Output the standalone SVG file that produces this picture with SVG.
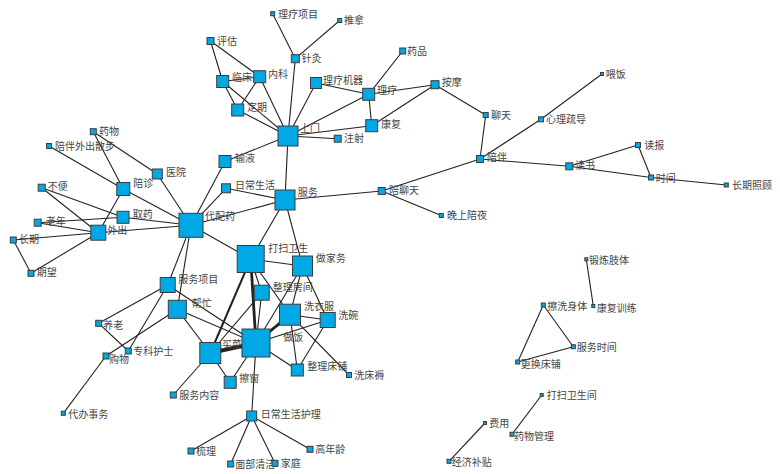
<svg xmlns="http://www.w3.org/2000/svg" width="780" height="474" viewBox="0 0 780 474">
<style>
.n rect{fill:#00a8e6;stroke:#3c3c3c;stroke-width:1}
.n text{font-family:"Noto Sans CJK SC","Noto Sans CJK JP",sans-serif;font-size:10px;fill:#444}
.e line{stroke:#222;stroke-width:1.1;fill:none}
.e .t2{stroke-width:2}
.e .t3{stroke-width:2.8}
.e .t4{stroke-width:4}
</style>
<rect width="780" height="474" fill="#fff"/>
<g id="connectors" class="e">
<line x1="272.7" y1="13.7" x2="295.3" y2="58.7"/>
<line x1="339.7" y1="20.5" x2="295.3" y2="58.7"/>
<line x1="295.3" y1="58.7" x2="288" y2="136"/>
<line x1="210.5" y1="41" x2="222.7" y2="81.5"/>
<line x1="210.5" y1="41" x2="259.7" y2="76.7"/>
<line x1="222.7" y1="81.5" x2="259.7" y2="76.7"/>
<line x1="222.7" y1="81.5" x2="237.7" y2="110"/>
<line x1="259.7" y1="76.7" x2="237.7" y2="110"/>
<line x1="222.7" y1="81.5" x2="288" y2="136"/>
<line x1="237.7" y1="110" x2="288" y2="136"/>
<line x1="259.7" y1="76.7" x2="288" y2="136"/>
<line x1="316" y1="83" x2="288" y2="136"/>
<line x1="316" y1="83" x2="368.7" y2="94.3"/>
<line x1="402.7" y1="51" x2="368.7" y2="94.3"/>
<line x1="368.7" y1="94.3" x2="435" y2="84.7"/>
<line x1="368.7" y1="94.3" x2="371.7" y2="125.7"/>
<line x1="435" y1="84.7" x2="371.7" y2="125.7"/>
<line x1="288" y1="136" x2="368.7" y2="94.3"/>
<line x1="288" y1="136" x2="371.7" y2="125.7"/>
<line x1="288" y1="136" x2="337.7" y2="138.7"/>
<line x1="288" y1="136" x2="225" y2="161.5"/>
<line x1="288" y1="136" x2="285" y2="200"/>
<line x1="435" y1="84.7" x2="485.7" y2="115"/>
<line x1="485.7" y1="115" x2="480" y2="159"/>
<line x1="480" y1="159" x2="541" y2="119.3"/>
<line x1="541" y1="119.3" x2="602" y2="74"/>
<line x1="480" y1="159" x2="569.3" y2="166.3"/>
<line x1="480" y1="159" x2="381.7" y2="191"/>
<line x1="569.3" y1="166.3" x2="638" y2="145"/>
<line x1="638" y1="145" x2="651" y2="177.5"/>
<line x1="569.3" y1="166.3" x2="651" y2="177.5"/>
<line x1="651" y1="177.5" x2="726.3" y2="185"/>
<line x1="381.7" y1="191" x2="285" y2="200"/>
<line x1="381.7" y1="191" x2="441.3" y2="215.5"/>
<line x1="93.3" y1="131.7" x2="123.3" y2="189"/>
<line x1="93.3" y1="131.7" x2="157.3" y2="174"/>
<line x1="49" y1="146" x2="123.3" y2="189"/>
<line x1="157.3" y1="174" x2="191" y2="225.3"/>
<line x1="123.3" y1="189" x2="191" y2="225.3"/>
<line x1="123.3" y1="189" x2="98.3" y2="232.7"/>
<line x1="41.7" y1="187.7" x2="123" y2="217.3"/>
<line x1="41.7" y1="187.7" x2="98.3" y2="232.7"/>
<line x1="37.7" y1="222.7" x2="123" y2="217.3"/>
<line x1="37.7" y1="222.7" x2="98.3" y2="232.7"/>
<line x1="123" y1="217.3" x2="191" y2="225.3"/>
<line x1="13.3" y1="240" x2="98.3" y2="232.7"/>
<line x1="13.3" y1="240" x2="31" y2="273.3"/>
<line x1="31" y1="273.3" x2="98.3" y2="232.7"/>
<line x1="98.3" y1="232.7" x2="191" y2="225.3"/>
<line x1="225" y1="161.5" x2="191" y2="225.3"/>
<line x1="226" y1="188.3" x2="191" y2="225.3"/>
<line x1="226" y1="188.3" x2="285" y2="200"/>
<line x1="191" y1="225.3" x2="285" y2="200"/>
<line x1="191" y1="225.3" x2="250.7" y2="259"/>
<line x1="191" y1="225.3" x2="167.7" y2="285"/>
<line x1="191" y1="225.3" x2="177.3" y2="309.3"/>
<line x1="285" y1="200" x2="250.7" y2="259"/>
<line x1="285" y1="200" x2="302.5" y2="266"/>
<line x1="250.7" y1="259" x2="302.5" y2="266"/>
<line x1="250.7" y1="259" x2="261.7" y2="292.7"/>
<line class="t3" x1="250.7" y1="259" x2="256" y2="343"/>
<line class="t2" x1="250.7" y1="259" x2="210.3" y2="353"/>
<line x1="250.7" y1="259" x2="290" y2="314.7"/>
<line x1="302.5" y1="266" x2="290" y2="314.7"/>
<line x1="302.5" y1="266" x2="327.7" y2="320"/>
<line x1="302.5" y1="266" x2="256" y2="343"/>
<line x1="261.7" y1="292.7" x2="256" y2="343"/>
<line x1="261.7" y1="292.7" x2="210.3" y2="353"/>
<line class="t3" x1="290" y1="314.7" x2="256" y2="343"/>
<line x1="290" y1="314.7" x2="327.7" y2="320"/>
<line x1="290" y1="314.7" x2="297.3" y2="370"/>
<line x1="290" y1="314.7" x2="349" y2="375"/>
<line x1="327.7" y1="320" x2="256" y2="343"/>
<line x1="327.7" y1="320" x2="297.3" y2="370"/>
<line class="t4" x1="256" y1="343" x2="210.3" y2="353"/>
<line x1="256" y1="343" x2="297.3" y2="370"/>
<line x1="256" y1="343" x2="230.2" y2="382.3"/>
<line x1="256" y1="343" x2="251.7" y2="416"/>
<line x1="256" y1="343" x2="177.3" y2="309.3"/>
<line x1="256" y1="343" x2="167.7" y2="285"/>
<line x1="210.3" y1="353" x2="230.2" y2="382.3"/>
<line x1="210.3" y1="353" x2="177.3" y2="309.3"/>
<line x1="210.3" y1="353" x2="173.3" y2="395"/>
<line x1="167.7" y1="285" x2="98.7" y2="323.3"/>
<line x1="167.7" y1="285" x2="128.3" y2="351"/>
<line x1="98.7" y1="323.3" x2="128.3" y2="351"/>
<line x1="177.3" y1="309.3" x2="106" y2="356"/>
<line x1="106" y1="356" x2="63.3" y2="413.3"/>
<line x1="251.7" y1="416" x2="191" y2="451"/>
<line x1="251.7" y1="416" x2="230.7" y2="464"/>
<line x1="251.7" y1="416" x2="275" y2="463.3"/>
<line x1="251.7" y1="416" x2="310" y2="449.3"/>
<line x1="586.3" y1="259.3" x2="593.3" y2="306"/>
<line x1="543.3" y1="305" x2="573.3" y2="346.7"/>
<line x1="543.3" y1="305" x2="517.7" y2="362"/>
<line x1="517.7" y1="362" x2="573.3" y2="346.7"/>
<line x1="541.7" y1="395" x2="512" y2="434.3"/>
<line x1="485" y1="423" x2="449" y2="461.3"/>
</g>
<g id="n1" class="n"><rect x="270.7" y="11.7" width="4" height="4"/><text x="278" y="17.5">理疗项目</text></g>
<g id="n2" class="n"><rect x="337.7" y="18.5" width="4" height="4"/><text x="344" y="24">推拿</text></g>
<g id="n3" class="n"><rect x="207" y="37.5" width="7" height="7"/><text x="217" y="44.5">评估</text></g>
<g id="n4" class="n"><rect x="291.3" y="54.7" width="8" height="8"/><text x="301.5" y="62">针灸</text></g>
<g id="n5" class="n"><rect x="399.7" y="48" width="6" height="6"/><text x="407" y="54.5">药品</text></g>
<g id="n6" class="n"><rect x="216.7" y="75.5" width="12" height="12"/><text x="232" y="81">临床</text></g>
<g id="n7" class="n"><rect x="253.7" y="70.7" width="12" height="12"/><text x="268" y="77.5">内科</text></g>
<g id="n8" class="n"><rect x="310.5" y="77.5" width="11" height="11"/><text x="323" y="83.5">理疗机器</text></g>
<g id="n9" class="n"><rect x="362.7" y="88.3" width="12" height="12"/><text x="377" y="94">理疗</text></g>
<g id="n10" class="n"><rect x="431" y="80.7" width="8" height="8"/><text x="441.7" y="86">按摩</text></g>
<g id="n11" class="n"><rect x="231.7" y="104" width="12" height="12"/><text x="247" y="111">定期</text></g>
<g id="n12" class="n"><rect x="278" y="126" width="20" height="20"/><text x="300" y="131.5">上门</text></g>
<g id="n13" class="n"><rect x="365.7" y="119.7" width="12" height="12"/><text x="381" y="127.5">康复</text></g>
<g id="n14" class="n"><rect x="334.2" y="135.2" width="7" height="7"/><text x="344" y="142">注射</text></g>
<g id="n15" class="n"><rect x="483.2" y="112.5" width="5" height="5"/><text x="491" y="119">聊天</text></g>
<g id="n16" class="n"><rect x="538.5" y="116.8" width="5" height="5"/><text x="546" y="123">心理疏导</text></g>
<g id="n17" class="n"><rect x="600.5" y="72.5" width="3" height="3"/><text x="605.7" y="77.5">喂饭</text></g>
<g id="n18" class="n"><rect x="476.5" y="155.5" width="7" height="7"/><text x="487" y="161">陪伴</text></g>
<g id="n19" class="n"><rect x="635.5" y="142.5" width="5" height="5"/><text x="644.3" y="148.5">读报</text></g>
<g id="n20" class="n"><rect x="565.8" y="162.8" width="7" height="7"/><text x="575" y="168.5">读书</text></g>
<g id="n21" class="n"><rect x="648.5" y="175" width="5" height="5"/><text x="655.7" y="181.5">时间</text></g>
<g id="n22" class="n"><rect x="724.3" y="183" width="4" height="4"/><text x="732" y="189">长期照顾</text></g>
<g id="n23" class="n"><rect x="378.2" y="187.5" width="7" height="7"/><text x="389" y="194">陪聊天</text></g>
<g id="n24" class="n"><rect x="439.3" y="213.5" width="4" height="4"/><text x="447" y="219">晚上陪夜</text></g>
<g id="n25" class="n"><rect x="90.3" y="128.7" width="6" height="6"/><text x="99" y="135">药物</text></g>
<g id="n26" class="n"><rect x="46.5" y="143.5" width="5" height="5"/><text x="55" y="149.5">陪伴外出散步</text></g>
<g id="n27" class="n"><rect x="152.3" y="169" width="10" height="10"/><text x="166" y="176">医院</text></g>
<g id="n28" class="n"><rect x="116.8" y="182.5" width="13" height="13"/><text x="133.3" y="187">陪诊</text></g>
<g id="n29" class="n"><rect x="219" y="155.5" width="12" height="12"/><text x="235" y="161.5">输液</text></g>
<g id="n30" class="n"><rect x="38.2" y="184.2" width="7" height="7"/><text x="47.7" y="189.5">不便</text></g>
<g id="n31" class="n"><rect x="221.5" y="183.8" width="9" height="9"/><text x="235" y="188.5">日常生活</text></g>
<g id="n32" class="n"><rect x="275" y="190" width="20" height="20"/><text x="297.7" y="196">服务</text></g>
<g id="n33" class="n"><rect x="117" y="211.3" width="12" height="12"/><text x="132.7" y="217.5">取药</text></g>
<g id="n34" class="n"><rect x="34.2" y="219.2" width="7" height="7"/><text x="45.7" y="225">老年</text></g>
<g id="n35" class="n"><rect x="179" y="213.3" width="24" height="24"/><text x="205" y="219.5">代配药</text></g>
<g id="n36" class="n"><rect x="90.8" y="225.2" width="15" height="15"/><text x="107.3" y="233.5">外出</text></g>
<g id="n37" class="n"><rect x="10.3" y="237" width="6" height="6"/><text x="19" y="242.5">长期</text></g>
<g id="n38" class="n"><rect x="28" y="270.3" width="6" height="6"/><text x="36.7" y="276">期望</text></g>
<g id="n39" class="n"><rect x="237.2" y="245.5" width="27" height="27"/><text x="268.3" y="252">打扫卫生</text></g>
<g id="n40" class="n"><rect x="292.5" y="256" width="20" height="20"/><text x="315.7" y="262">做家务</text></g>
<g id="n41" class="n"><rect x="254.2" y="285.2" width="15" height="15"/><text x="272.7" y="291">整理房间</text></g>
<g id="n42" class="n"><rect x="160.2" y="277.5" width="15" height="15"/><text x="178.3" y="283">服务项目</text></g>
<g id="n43" class="n"><rect x="168.3" y="300.3" width="18" height="18"/><text x="191.7" y="307">帮忙</text></g>
<g id="n44" class="n"><rect x="279.5" y="304.2" width="21" height="21"/><text x="304" y="310">洗衣服</text></g>
<g id="n45" class="n"><rect x="320.2" y="312.5" width="15" height="15"/><text x="338.3" y="319">洗碗</text></g>
<g id="n46" class="n"><rect x="242" y="329" width="28" height="28"/><text x="283.3" y="341">做饭</text></g>
<g id="n47" class="n"><rect x="199.8" y="342.5" width="21" height="21"/><text x="221.7" y="347.5">买菜</text></g>
<g id="n48" class="n"><rect x="291.3" y="364" width="12" height="12"/><text x="307.3" y="369.5">整理床铺</text></g>
<g id="n49" class="n"><rect x="346.5" y="372.5" width="5" height="5"/><text x="354.3" y="379">洗床褥</text></g>
<g id="n50" class="n"><rect x="224.2" y="376.3" width="12" height="12"/><text x="239.3" y="382">擦窗</text></g>
<g id="n51" class="n"><rect x="95.7" y="320.3" width="6" height="6"/><text x="103.3" y="328.5">养老</text></g>
<g id="n52" class="n"><rect x="125.3" y="348" width="6" height="6"/><text x="133.3" y="354.5">专科护士</text></g>
<g id="n53" class="n"><rect x="103" y="353" width="6" height="6"/><text x="109" y="362.5">购物</text></g>
<g id="n54" class="n"><rect x="170.3" y="392" width="6" height="6"/><text x="179.3" y="398.5">服务内容</text></g>
<g id="n55" class="n"><rect x="61.3" y="411.3" width="4" height="4"/><text x="68.3" y="417.5">代办事务</text></g>
<g id="n56" class="n"><rect x="246.7" y="411" width="10" height="10"/><text x="260.7" y="418">日常生活护理</text></g>
<g id="n57" class="n"><rect x="188" y="448" width="6" height="6"/><text x="196" y="455">梳理</text></g>
<g id="n58" class="n"><rect x="227.7" y="461" width="6" height="6"/><text x="235.3" y="467.5">面部清洁</text></g>
<g id="n59" class="n"><rect x="272" y="460.3" width="6" height="6"/><text x="280.7" y="467">家庭</text></g>
<g id="n60" class="n"><rect x="307" y="446.3" width="6" height="6"/><text x="315.3" y="452.5">高年龄</text></g>
<g id="n61" class="n"><rect x="584.8" y="257.8" width="3" height="3"/><text x="589" y="264">锻炼肢体</text></g>
<g id="n62" class="n"><rect x="591.8" y="304.5" width="3" height="3"/><text x="596.7" y="311.5">康复训练</text></g>
<g id="n63" class="n"><rect x="541.3" y="303" width="4" height="4"/><text x="547.3" y="309.5">擦洗身体</text></g>
<g id="n64" class="n"><rect x="571.3" y="344.7" width="4" height="4"/><text x="576.7" y="351">服务时间</text></g>
<g id="n65" class="n"><rect x="515.7" y="360" width="4" height="4"/><text x="520.7" y="367.5">更换床铺</text></g>
<g id="n66" class="n"><rect x="540.2" y="393.5" width="3" height="3"/><text x="546.7" y="398.5">打扫卫生间</text></g>
<g id="n67" class="n"><rect x="483.5" y="421.5" width="3" height="3"/><text x="489.3" y="427">费用</text></g>
<g id="n68" class="n"><rect x="510" y="432.3" width="4" height="4"/><text x="514" y="440">药物管理</text></g>
<g id="n69" class="n"><rect x="447" y="459.3" width="4" height="4"/><text x="451.7" y="466">经济补贴</text></g>
</svg>
